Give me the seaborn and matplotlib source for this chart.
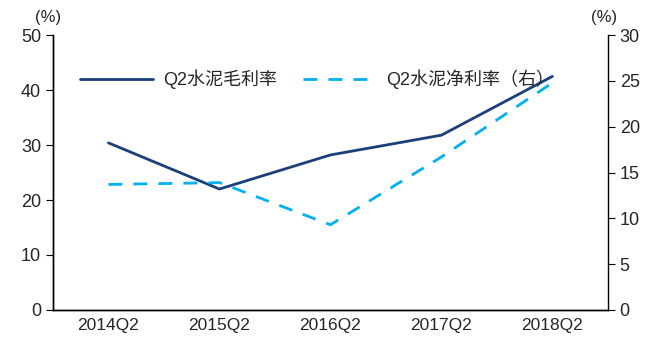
import matplotlib
matplotlib.use("Agg")
import matplotlib.pyplot as plt
import seaborn as sns
import pandas as pd
import numpy as np

sns.set_style("white")
plt.rcParams['font.family'] = ['Liberation Sans', 'Noto Sans CJK SC', 'DejaVu Sans']

categories = ["2014Q2", "2015Q2", "2016Q2", "2017Q2", "2018Q2"]
gross_margin = [30.4, 22.0, 28.2, 31.8, 42.5]
net_margin = [13.7, 13.9, 9.3, 16.7, 24.8]
gross_label = "Q2水泥毛利率"
net_label = "Q2水泥净利率（右）"

pos = np.arange(len(categories))
df = pd.DataFrame({"x": pos, "gross": gross_margin, "net": net_margin})

fig = plt.figure(figsize=(6.46, 3.38), dpi=100)
ax = fig.add_axes([0.082, 0.083, 0.859, 0.813])
ax2 = ax.twinx()

sns.lineplot(data=df, x="x", y="gross", ax=ax, color="#1B3F7A", lw=2.0, label=gross_label, legend=False)
sns.lineplot(data=df, x="x", y="net", ax=ax2, color="#00B0F0", lw=2.0, label=net_label, legend=False)
ax2.lines[0].set_dashes([5, 4])

ax.set_xlim(-0.5, len(categories) - 0.5)
ax.set_ylim(0, 50)
ax2.set_ylim(0, 30)
ax.set_yticks(range(0, 51, 10))
ax2.set_yticks(range(0, 31, 5))
ax.set_xticks(np.arange(-0.5, len(categories), 1.0))
ax.set_xticklabels([])
ax.set_xticks(pos, minor=True)
ax.set_xticklabels(categories, minor=True)
ax.tick_params(axis="x", which="minor", length=0, pad=6, labelsize=12.5)
ax.tick_params(axis="x", which="major", length=5, direction="out", color="black")
ax.tick_params(axis="y", length=5, direction="out", labelsize=13, color="black", left=True)
ax2.tick_params(axis="y", length=5, direction="out", labelsize=13, color="black", right=True)
ax.set_xlabel("")
ax.set_ylabel("")
ax2.set_ylabel("")

for a in (ax, ax2):
    a.spines["top"].set_visible(False)
    for s in ("left", "right", "bottom"):
        a.spines[s].set_color("black")
        a.spines[s].set_linewidth(1.0)
ax.spines["right"].set_visible(False)

fig.text(0.075, 0.925, "(%)", ha="center", va="bottom", fontsize=12)
fig.text(0.935, 0.925, "(%)", ha="center", va="bottom", fontsize=12)

h1, l1 = ax.get_legend_handles_labels()
h2, l2 = ax2.get_legend_handles_labels()
h2[0].set_dashes([5, 4])
leg = ax.legend(h1 + h2, l1 + l2, loc="upper left", bbox_to_anchor=(0.02, 0.935), ncol=2,
                frameon=False, fontsize=13, handlelength=4.0, columnspacing=1.4, handletextpad=0.6)

fig.savefig("out.png", dpi=100)
